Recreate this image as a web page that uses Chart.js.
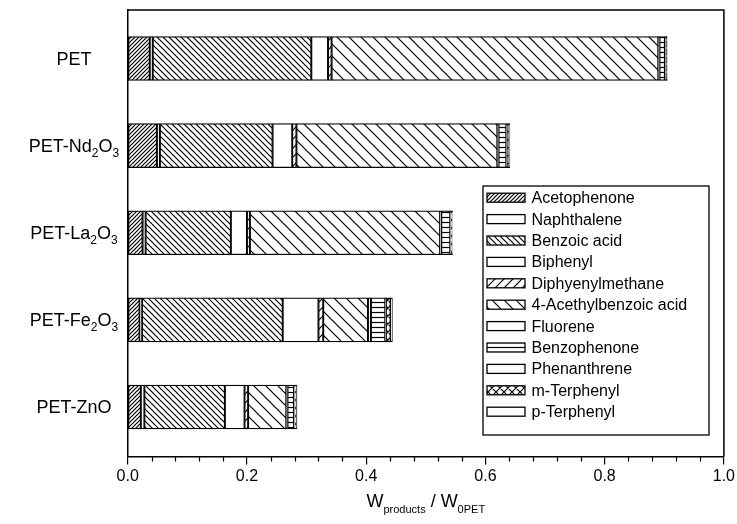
<!DOCTYPE html>
<html><head><meta charset="utf-8">
<script src="https://cdn.jsdelivr.net/npm/chart.js@4/dist/chart.umd.min.js"></script>
<style>html,body{margin:0;padding:0;background:#fff}#wrap{width:737px;height:524px}</style>
</head><body><div id="wrap"><canvas id="c" width="737" height="524"></canvas></div>
<script>
// ---- data ----
const categories = ['PET', 'PET-Nd2O3', 'PET-La2O3', 'PET-Fe2O3', 'PET-ZnO'];
const seriesNames = ['Acetophenone', 'Naphthalene', 'Benzoic acid', 'Biphenyl', 'Diphyenylmethane',
  '4-Acethylbenzoic acid', 'Fluorene', 'Benzophenone', 'Phenanthrene', 'm-Terphenyl', 'p-Terphenyl'];
const acetophenone    = [0.037, 0.049, 0.025, 0.020, 0.022];
const naphthalene     = [0.005, 0.005, 0.005, 0.004, 0.006];
const benzoicAcid     = [0.266, 0.189, 0.143, 0.236, 0.135];
const biphenyl        = [0.028, 0.033, 0.027, 0.060, 0.033];
const diphenylmethane = [0.006, 0.007, 0.005, 0.008, 0.006];
const acethylbenzoic  = [0.548, 0.337, 0.319, 0.075, 0.064];
const fluorene        = [0.002, 0.002, 0.002, 0.005, 0.002];
const benzophenone    = [0.009, 0.013, 0.015, 0.024, 0.011];
const phenanthrene    = [0.001, 0.001, 0.001, 0.001, 0.001];
const mTerphenyl      = [0.002, 0.004, 0.002, 0.008, 0.003];
const pTerphenyl      = [0.001, 0.001, 0.001, 0.003, 0.001];
const seriesValues = [acetophenone, naphthalene, benzoicAcid, biphenyl, diphenylmethane,
  acethylbenzoic, fluorene, benzophenone, phenanthrene, mTerphenyl, pTerphenyl];
const xTicks = [0, 0.2, 0.4, 0.6, 0.8, 1.0];
const xTitleParts = [['W', 0], ['products', 1], [' / W', 0], ['0PET', 1]];

// ---- styles ----
const hatchKinds = [['fwd', 4], ['none'], ['back', 6], ['none'], ['fwd', 9], ['back', 12],
  ['none'], ['horiz', 5], ['none'], ['cross', 8], ['none']];
const FONT = '"Liberation Sans", Arial, sans-serif';

function makePattern(kind, s) {
  if (kind === 'none') return '#ffffff';
  const c = document.createElement('canvas'); c.width = s; c.height = s;
  const g = c.getContext('2d');
  g.fillStyle = '#fff'; g.fillRect(0, 0, s, s);
  g.strokeStyle = '#000'; g.lineWidth = 1.2;
  g.beginPath();
  const fwd = () => { g.moveTo(-1, s + 1); g.lineTo(s + 1, -1); g.moveTo(-1, 1); g.lineTo(1, -1); g.moveTo(s - 1, s + 1); g.lineTo(s + 1, s - 1); };
  const back = () => { g.moveTo(-1, -1); g.lineTo(s + 1, s + 1); g.moveTo(s - 1, -1); g.lineTo(s + 1, 1); g.moveTo(-1, s - 1); g.lineTo(1, s + 1); };
  if (kind === 'fwd') fwd();
  if (kind === 'back') back();
  if (kind === 'cross') { fwd(); back(); }
  if (kind === 'horiz') { g.moveTo(0, Math.floor(s / 2) + 0.5); g.lineTo(s, Math.floor(s / 2) + 0.5); }
  g.stroke();
  const ctx = document.getElementById('c').getContext('2d');
  return ctx.createPattern(c, 'repeat');
}
const fills = hatchKinds.map(k => makePattern(k[0], k[1]));

function drawRich(ctx, parts, x, y, align, big, small, subDy) {
  let w = 0;
  parts.forEach(p => { ctx.font = (p[1] ? small : big) + 'px ' + FONT; w += ctx.measureText(p[0]).width; });
  let cx = align === 'right' ? x - w : align === 'center' ? x - w / 2 : x;
  ctx.textAlign = 'left'; ctx.textBaseline = 'alphabetic'; ctx.fillStyle = '#000';
  parts.forEach(p => {
    ctx.font = (p[1] ? small : big) + 'px ' + FONT;
    ctx.fillText(p[0], cx, y + (p[1] ? subDy : 0));
    cx += ctx.measureText(p[0]).width;
  });
}
function catParts(name) {
  return name.split(/(\d)/).filter(t => t.length).map(t => [t, /^\d$/.test(t) ? 1 : 0]);
}

const decor = {
  id: 'decor',
  afterDraw(chart) {
    const ctx = chart.ctx, a = chart.chartArea, xs = chart.scales.x, ys = chart.scales.y;
    ctx.save();
    ctx.strokeStyle = '#000'; ctx.lineWidth = 1.5;
    ctx.beginPath();
    ctx.moveTo(a.left, a.top); ctx.lineTo(a.right, a.top); ctx.lineTo(a.right, a.bottom);
    ctx.stroke();
    ctx.lineWidth = 1.2;
    ctx.beginPath();
    for (let i = 1; i < 25; i++) {
      if (i % 5 === 0) continue;
      const px = Math.round(xs.getPixelForValue(i * 0.04)) + 0.5;
      ctx.moveTo(px, a.bottom); ctx.lineTo(px, a.bottom + 5);
    }
    ctx.stroke();
    categories.forEach((name, i) => {
      const py = ys.getPixelForValue(i);
      drawRich(ctx, catParts(name), 74, py + 6, 'center', 18, 12, 5);
    });
    drawRich(ctx, xTitleParts, (a.left + a.right) / 2, 507, 'center', 18, 11, 6);
    const lx = 483, lt = 186, lr = 709, lb = 435;
    ctx.fillStyle = '#fff'; ctx.fillRect(lx, lt, lr - lx, lb - lt);
    ctx.strokeStyle = '#000'; ctx.lineWidth = 1.3;
    ctx.strokeRect(lx, lt, lr - lx, lb - lt);
    seriesNames.forEach((n, i) => {
      const cy = 197.7 + i * 21.4;
      ctx.fillStyle = fills[i];
      ctx.fillRect(487, cy - 4.5, 38, 9);
      ctx.strokeStyle = '#000'; ctx.lineWidth = 1.3;
      ctx.strokeRect(487, cy - 4.5, 38, 9);
      ctx.fillStyle = '#000'; ctx.font = '16px ' + FONT;
      ctx.textAlign = 'left'; ctx.textBaseline = 'middle';
      ctx.fillText(n, 531.5, cy + 1);
    });
    ctx.restore();
  }
};

new Chart(document.getElementById('c'), {
  type: 'bar',
  data: {
    datasets: seriesNames.map((n, k) => ({
      label: n,
      data: seriesValues[k].map((v, i) => ({ x: v, y: i })),
      backgroundColor: fills[k],
      borderColor: '#000',
      borderWidth: 1.3,
      borderSkipped: false,
      barThickness: 44
    }))
  },
  options: {
    indexAxis: 'y',
    responsive: false,
    animation: false,
    events: [],
    layout: { padding: { left: 10, right: 10, top: 10, bottom: 0 } },
    plugins: { legend: { display: false }, tooltip: { enabled: false } },
    scales: {
      x: {
        type: 'linear', min: 0, max: 1, stacked: true, position: 'bottom',
        border: { display: true, color: '#000', width: 1.5 },
        grid: { display: true, drawOnChartArea: false, drawTicks: true, tickLength: 8, color: '#000', lineWidth: 1.2 },
        afterBuildTicks: s => { s.ticks = xTicks.map(v => ({ value: v })); },
        ticks: { color: '#000', font: { family: FONT, size: 16 }, padding: 2, maxRotation: 0,
          callback: v => Number(v).toFixed(1) },
        afterFit: s => { s.height = 67.5; }
      },
      y: {
        type: 'linear', min: -0.557, max: 4.568, reverse: true, stacked: true, offset: false,
        border: { display: true, color: '#000', width: 1.5 },
        grid: { display: false }, ticks: { display: false },
        afterFit: s => { s.width = 117.7; }
      }
    }
  },
  plugins: [decor]
});
</script>
</body></html>
